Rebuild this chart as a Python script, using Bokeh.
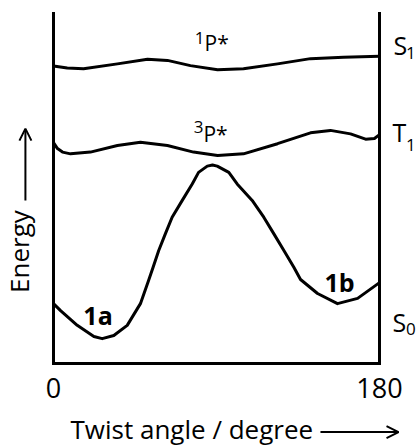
from bokeh.plotting import figure
from bokeh.models import Range1d, Label, Arrow, OpenHead
from bokeh.embed import file_html
from bokeh.resources import INLINE

# Twist angle (degree) and relative energy (arbitrary units)
s0_angle = [0, 3.9, 13.1, 22.3, 26.9, 33.3, 40.7, 48.0, 52.5, 55.0, 58.1, 61.8, 65.5,
            71.1, 76.6, 80.1, 84.9, 87.8, 90.4, 96.8, 101.4, 109.7, 116.1, 121.6, 127.2,
            132.7, 136.4, 145.8, 156.8, 167.9, 180]
s0_energy = [17.1, 15.1, 10.9, 7.7, 7.1, 8.0, 10.9, 17.1, 23.7, 27.5, 32.3, 37.1, 41.8,
             46.6, 51.3, 54.6, 56.4, 56.7, 56.4, 54.6, 51.3, 46.6, 41.8, 37.1, 32.3,
             27.5, 24.0, 20.0, 17.1, 18.6, 23.1]

t1_angle = [0, 2.2, 5.0, 9.4, 20.4, 35.3, 48.0, 62.9, 77.3, 90.6, 104.9, 123.7, 141.9,
            152.9, 164.0, 172.3, 177.2, 180]
t1_energy = [63.1, 61.4, 60.4, 59.9, 60.4, 62.3, 63.2, 62.3, 60.4, 59.4, 59.9, 62.8, 65.9,
             66.6, 65.6, 64.1, 64.3, 65.4]

s1_angle = [0, 7.6, 16.6, 35.3, 51.9, 62.9, 75.6, 90.6, 104.9, 123.7, 141.9, 160.1, 180]
s1_energy = [85.0, 84.4, 84.2, 85.6, 86.9, 86.6, 85.1, 83.9, 84.2, 85.6, 87.1, 87.5, 87.8]

x_ticks = [0, 180]
x_tick_labels = ["0", "180"]
box_x = [0, 0, 180, 180]
box_y = [100, 0, 0, 100]

FONT = "Open Sans"

p = figure(width=418, height=446, output_backend="svg", toolbar_location=None,
           x_range=Range1d(-29.26, 201.53), y_range=Range1d(-23.71, 103.71),
           x_axis_location=None, y_axis_location=None,
           min_border=0, min_border_left=0, min_border_right=0,
           min_border_top=0, min_border_bottom=0)
p.outline_line_color = None
p.grid.visible = False
p.background_fill_color = "white"
p.border_fill_color = "white"

# frame lines (left, bottom, right)
p.line(box_x, box_y, line_width=3, line_color="black", line_join="miter", line_cap="square")

for xs, ys in [(s0_angle, s0_energy), (t1_angle, t1_energy), (s1_angle, s1_energy)]:
    p.line(xs, ys, line_width=3, line_color="black", line_join="round", line_cap="round")

# tick labels
p.text(x=x_ticks, y=[-7.1] * len(x_ticks), text=x_tick_labels,
       text_font={"value": FONT}, text_font_size="27px", text_align="center",
       text_baseline="alphabetic", text_color="black")

def lab(x, y, text, size, align="left", bold=False, angle=0, baseline="alphabetic"):
    p.add_layout(Label(x=x, y=y, text=text, text_font=FONT, text_font_size=size,
                       text_align=align, text_baseline=baseline, angle=angle,
                       text_color="black",
                       text_font_style="bold" if bold else "normal"))

# state labels
lab(83.4, 92.9, "1", "17px", align="right")
lab(83.4, 91.5, "P*", "21px")
lab(82.8, 67.5, "3", "17px", align="right")
lab(82.8, 65.5, "P*", "21px")

lab(187.7, 90.9, "S", "25px")
lab(194.6, 88.6, "1", "17px")
lab(187.2, 66.0, "T", "25px")
lab(194.6, 62.3, "1", "17px")
lab(187.2, 11.8, "S", "25px")
lab(194.6, 10.0, "0", "17px")

lab(24.6, 13.8, "1a", "25px", align="center", bold=True)
lab(157.9, 23.2, "1b", "25px", align="center", bold=True)

# axis titles with arrows
lab(-18.8, 32.0, "Energy", "26px", align="center", angle=1.5708)
p.add_layout(Arrow(x_start=-15.5, y_start=46.6, x_end=-15.5, y_end=67.1,
                   line_width=2, line_color="black",
                   end=OpenHead(size=12, line_width=2, line_color="black")))
lab(9.4, -18.7, "Twist angle / degree", "26px")
p.add_layout(Arrow(x_start=147.4, y_start=-19.6, x_end=190.5, y_end=-19.6,
                   line_width=2, line_color="black",
                   end=OpenHead(size=12, line_width=2, line_color="black")))

open("out.html", "w").write(file_html(p, INLINE))
